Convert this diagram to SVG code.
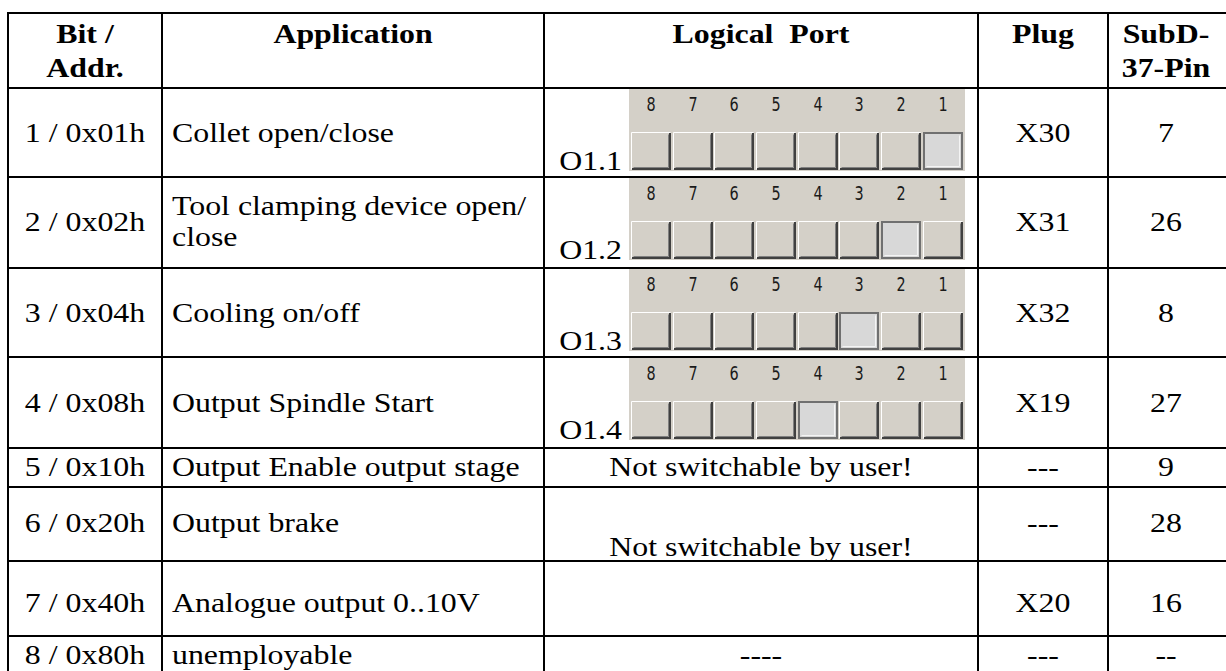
<svg xmlns="http://www.w3.org/2000/svg" width="1226" height="671" viewBox="0 0 1226 671">
<defs>
<style>
.t{font-family:"Liberation Serif","Times New Roman",serif;font-size:27px;fill:#000}
.h{font-family:"Liberation Serif","Times New Roman",serif;font-size:27px;font-weight:bold;fill:#000}
.c{text-anchor:middle}
.e{text-anchor:end}
.d{font-family:"DejaVu Sans Condensed","Liberation Sans Narrow","DejaVu Sans",sans-serif;font-size:20px;fill:#1a1a1a;text-anchor:middle}
.bg{fill:#d4d0c8}
.g{stroke:#000;stroke-width:2;fill:none}
</style>
<g id="btn">
<rect x="0" y="0" width="40" height="38" fill="#d4d0c8"/>
<path d="M0.5 37.5V0.5H39.5" stroke="#ffffff" stroke-width="1" fill="none"/>
<path d="M1 37H39V1" stroke="#404040" stroke-width="2" fill="none"/>
<path d="M2.5 35.5H37.5V2.5" stroke="#808080" stroke-width="1" fill="none"/>
</g>
<g id="btnOn">
<rect x="0" y="0" width="40" height="38" fill="#d8d8d8"/>
<rect x="1" y="1" width="38" height="36" fill="none" stroke="#707070" stroke-width="2"/>
<path d="M3.5 34.5H36.5V3.5" stroke="#f4f4f4" stroke-width="1" fill="none"/>
</g>
<g id="digits">
<rect class="bg" x="629" y="0" width="336" height="82"/>
<text class="d" transform="translate(651,22) scale(0.8,1)">8</text>
<text class="d" transform="translate(693,22) scale(0.8,1)">7</text>
<text class="d" transform="translate(734,22) scale(0.8,1)">6</text>
<text class="d" transform="translate(776,22) scale(0.8,1)">5</text>
<text class="d" transform="translate(818,22) scale(0.8,1)">4</text>
<text class="d" transform="translate(859,22) scale(0.8,1)">3</text>
<text class="d" transform="translate(901,22) scale(0.8,1)">2</text>
<text class="d" transform="translate(943,22) scale(0.8,1)">1</text>
</g>
</defs>

<g id="grid" class="g">
<line x1="8" y1="13" x2="1226" y2="13"/>
<line x1="8" y1="88" x2="1226" y2="88"/>
<line x1="8" y1="177" x2="1226" y2="177"/>
<line x1="8" y1="268" x2="1226" y2="268"/>
<line x1="8" y1="357" x2="1226" y2="357"/>
<line x1="8" y1="448" x2="1226" y2="448"/>
<line x1="8" y1="487" x2="1226" y2="487"/>
<line x1="8" y1="561" x2="1226" y2="561"/>
<line x1="8" y1="636" x2="1226" y2="636"/>
<line x1="8" y1="12" x2="8" y2="671"/>
<line x1="162" y1="12" x2="162" y2="671"/>
<line x1="544" y1="12" x2="544" y2="671"/>
<line x1="978" y1="12" x2="978" y2="671"/>
<line x1="1108" y1="12" x2="1108" y2="671"/>
</g>

<g id="header">
<text class="h c" transform="translate(85,43) scale(1.18,1)">Bit /</text>
<text class="h c" transform="translate(85,77) scale(1.18,1)">Addr.</text>
<text class="h c" transform="translate(353,43) scale(1.18,1)">Application</text>
<text class="h c" transform="translate(761,43) scale(1.18,1)" xml:space="preserve">Logical  Port</text>
<text class="h c" transform="translate(1043,43) scale(1.18,1)">Plug</text>
<text class="h c" transform="translate(1166,43) scale(1.18,1)">SubD-</text>
<text class="h c" transform="translate(1166,77) scale(1.18,1)">37-Pin</text>
</g>

<g id="row1">
<text class="t c" transform="translate(85,142) scale(1.18,1)">1 / 0x01h</text>
<text class="t" transform="translate(172,142) scale(1.18,1)">Collet open/close</text>
<g id="port1">
<use href="#digits" y="89"/>
<use href="#btn" x="631" y="132"/><use href="#btn" x="673" y="132"/><use href="#btn" x="714" y="132"/><use href="#btn" x="756" y="132"/>
<use href="#btn" x="798" y="132"/><use href="#btn" x="839" y="132"/><use href="#btn" x="881" y="132"/><use href="#btnOn" x="923" y="132"/>
<text class="t e" transform="translate(622,170) scale(1.18,1)">O1.1</text>
</g>
<text class="t c" transform="translate(1043,142) scale(1.18,1)">X30</text>
<text class="t c" transform="translate(1166,142) scale(1.18,1)">7</text>
</g>

<g id="row2">
<text class="t c" transform="translate(85,231) scale(1.18,1)">2 / 0x02h</text>
<text class="t" transform="translate(172,215) scale(1.18,1)">Tool clamping device open/</text>
<text class="t" transform="translate(172,246) scale(1.18,1)">close</text>
<g id="port2">
<use href="#digits" y="178"/>
<use href="#btn" x="631" y="221"/><use href="#btn" x="673" y="221"/><use href="#btn" x="714" y="221"/><use href="#btn" x="756" y="221"/>
<use href="#btn" x="798" y="221"/><use href="#btn" x="839" y="221"/><use href="#btnOn" x="881" y="221"/><use href="#btn" x="923" y="221"/>
<text class="t e" transform="translate(622,259) scale(1.18,1)">O1.2</text>
</g>
<text class="t c" transform="translate(1043,231) scale(1.18,1)">X31</text>
<text class="t c" transform="translate(1166,231) scale(1.18,1)">26</text>
</g>

<g id="row3">
<text class="t c" transform="translate(85,322) scale(1.18,1)">3 / 0x04h</text>
<text class="t" transform="translate(172,322) scale(1.18,1)">Cooling on/off</text>
<g id="port3">
<use href="#digits" y="269"/>
<use href="#btn" x="631" y="312"/><use href="#btn" x="673" y="312"/><use href="#btn" x="714" y="312"/><use href="#btn" x="756" y="312"/>
<use href="#btn" x="798" y="312"/><use href="#btnOn" x="839" y="312"/><use href="#btn" x="881" y="312"/><use href="#btn" x="923" y="312"/>
<text class="t e" transform="translate(622,350) scale(1.18,1)">O1.3</text>
</g>
<text class="t c" transform="translate(1043,322) scale(1.18,1)">X32</text>
<text class="t c" transform="translate(1166,322) scale(1.18,1)">8</text>
</g>

<g id="row4">
<text class="t c" transform="translate(85,412) scale(1.18,1)">4 / 0x08h</text>
<text class="t" transform="translate(172,412) scale(1.18,1)">Output Spindle Start</text>
<g id="port4">
<use href="#digits" y="358"/>
<use href="#btn" x="631" y="401"/><use href="#btn" x="673" y="401"/><use href="#btn" x="714" y="401"/><use href="#btn" x="756" y="401"/>
<use href="#btnOn" x="798" y="401"/><use href="#btn" x="839" y="401"/><use href="#btn" x="881" y="401"/><use href="#btn" x="923" y="401"/>
<text class="t e" transform="translate(622,439) scale(1.18,1)">O1.4</text>
</g>
<text class="t c" transform="translate(1043,412) scale(1.18,1)">X19</text>
<text class="t c" transform="translate(1166,412) scale(1.18,1)">27</text>
</g>

<g id="row5">
<text class="t c" transform="translate(85,476) scale(1.18,1)">5 / 0x10h</text>
<text class="t" transform="translate(172,476) scale(1.18,1)">Output Enable output stage</text>
<text class="t c" transform="translate(761,476) scale(1.18,1)">Not switchable by user!</text>
<text class="t c" transform="translate(1043,476) scale(1.18,1)">---</text>
<text class="t c" transform="translate(1166,476) scale(1.18,1)">9</text>
</g>

<g id="row6">
<text class="t c" transform="translate(85,532) scale(1.18,1)">6 / 0x20h</text>
<text class="t" transform="translate(172,532) scale(1.18,1)">Output brake</text>
<text class="t c" transform="translate(761,556) scale(1.18,1)">Not switchable by user!</text>
<text class="t c" transform="translate(1043,532) scale(1.18,1)">---</text>
<text class="t c" transform="translate(1166,532) scale(1.18,1)">28</text>
</g>

<g id="row7">
<text class="t c" transform="translate(85,612) scale(1.18,1)">7 / 0x40h</text>
<text class="t" transform="translate(172,612) scale(1.18,1)">Analogue output 0..10V</text>
<text class="t c" transform="translate(1043,612) scale(1.18,1)">X20</text>
<text class="t c" transform="translate(1166,612) scale(1.18,1)">16</text>
</g>

<g id="row8">
<text class="t c" transform="translate(85,664) scale(1.18,1)">8 / 0x80h</text>
<text class="t" transform="translate(172,664) scale(1.18,1)">unemployable</text>
<text class="t c" transform="translate(761,664) scale(1.18,1)">----</text>
<text class="t c" transform="translate(1043,664) scale(1.18,1)">---</text>
<text class="t c" transform="translate(1166,664) scale(1.18,1)">--</text>
</g>
</svg>
